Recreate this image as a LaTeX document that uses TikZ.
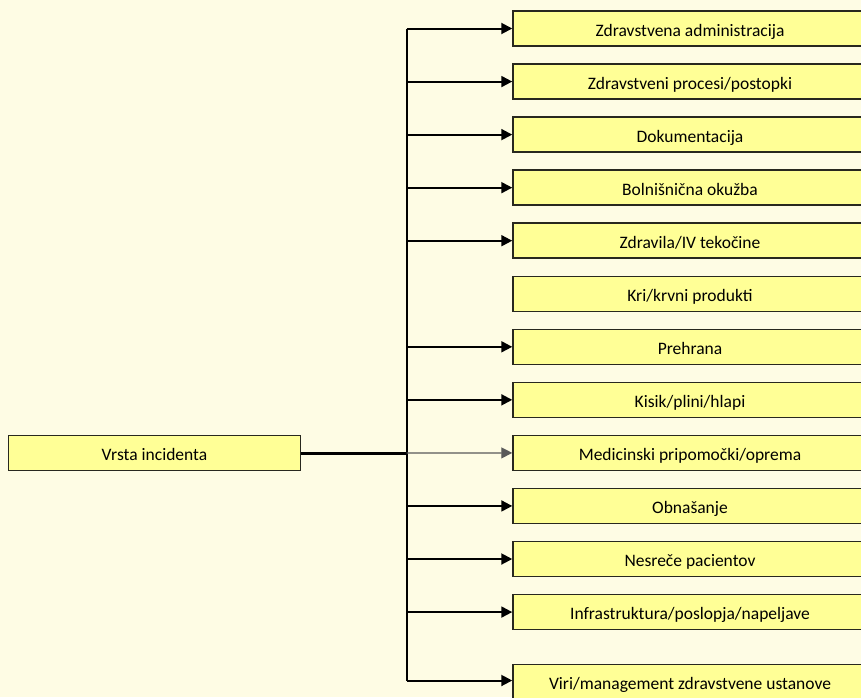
\documentclass[tikz,border=0pt]{standalone}
\usepackage{fontspec}
\setmainfont{Carlito}
\usetikzlibrary{arrows.meta}
\definecolor{pagebg}{RGB}{254,252,228}
\definecolor{boxfill}{RGB}{255,255,150}
\definecolor{boxline}{RGB}{40,40,30}
\begin{document}
\begin{tikzpicture}[x=1pt,y=-1pt,
  labelbox/.style={draw=boxline,line width=1.5pt,fill=boxfill,minimum height=35pt,inner sep=0pt,
    text height=15.2pt,text depth=0pt,font=\fontsize{17.5}{20}\selectfont},
  catbox/.style={labelbox,minimum width=354pt},
  rootbox/.style={labelbox,minimum width=292pt},
  feed/.style={line width=2pt,-{Triangle[length=11pt,width=11pt]}},
  trunk/.style={line width=2pt}]
\fill[pagebg] (0,0) rectangle (861,697);
\useasboundingbox (0,0) rectangle (861,697);
% left node
\node[rootbox] (root) at (154.5,453) {Vrsta incidenta};
% category boxes
\foreach \t [count=\i from 0] in {Zdravstvena administracija,Zdravstveni procesi/postopki,Dokumentacija,Bolnišnična okužba,Zdravila/IV tekočine,Kri/krvni produkti,Prehrana,Kisik/plini/hlapi,Medicinski pripomočki/oprema,Obnašanje,Nesreče pacientov,Infrastruktura/poslopja/napeljave}
  \node[catbox] (c\i) at (690,28.5+53.05*\i) {\t};
\node[catbox] (c12) at (690,682) {Viri/management zdravstvene ustanove};
% trunk line
\coordinate (top) at (406.5,28.5);
\coordinate (bot) at (406.5,680.5);
\coordinate (hub) at (406.5,453);
\draw[trunk] (top) -- (bot);
\draw[line width=3pt] (root.east) -- (hub);
% branches (no arrow into c5)
\foreach \i in {0,1,2,3,4,6,7,9,10,11}
  \draw[feed] (top |- c\i.west) -- (c\i.west);
\draw[line width=1.3pt,draw=black!65,-{Triangle[length=11pt,width=11pt]}] (hub) -- (c8.west);
\draw[feed] (bot) -- (bot -| c12.west);
\end{tikzpicture}
\end{document}
